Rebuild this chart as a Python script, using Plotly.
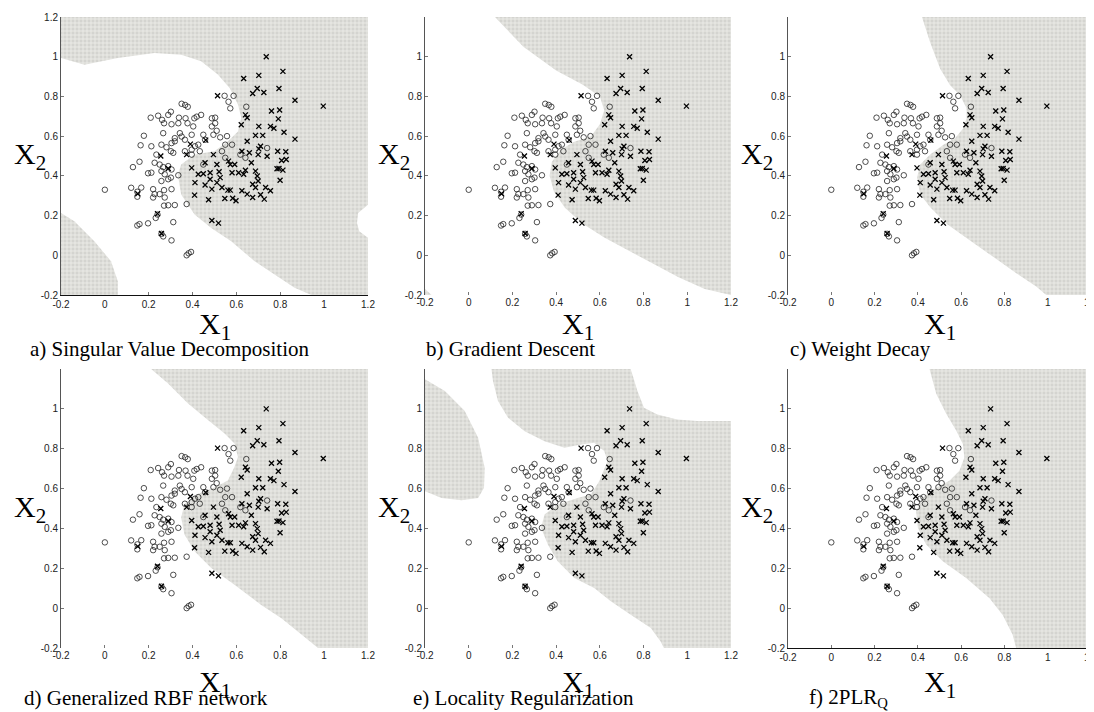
import plotly.graph_objects as go

# ---------------- data: sample points (same in every panel) ----------------
CIRCLE_X = [0.00, 0.12, 0.148, 0.166, 0.128, 0.148,
            0.35, 0.366, 0.378,
            0.209, 0.243, 0.261, 0.289, 0.301, 0.27, 0.304, 0.338, 0.335, 0.368, 0.377, 0.408, 0.419, 0.439, 0.403,
            0.266, 0.178, 0.342, 0.35, 0.319, 0.365, 0.396, 0.449, 0.488, 0.503, 0.495, 0.526, 0.557, 0.51, 0.488, 0.503,
            0.163, 0.212, 0.258, 0.281, 0.304, 0.319, 0.301, 0.312, 0.365, 0.396, 0.411, 0.426, 0.433, 0.457, 0.396, 0.534, 0.549, 0.58,
            0.158, 0.235, 0.227, 0.25, 0.266, 0.289, 0.304, 0.197, 0.212, 0.258, 0.273, 0.449, 0.549, 0.618, 0.641,
            0.301, 0.335, 0.258, 0.289, 0.304, 0.22, 0.227, 0.25, 0.27, 0.273, 0.22,
            0.27, 0.289, 0.319, 0.373, 0.24, 0.232,
            0.148, 0.158, 0.197, 0.312, 0.258, 0.266, 0.304,
            0.373, 0.393, 0.382,
            0.546, 0.587, 0.564, 0.572, 0.645, 0.74]
CIRCLE_Y = [0.33, 0.34, 0.32, 0.341, 0.444, 0.295,
            0.763, 0.757, 0.748,
            0.693, 0.703, 0.682, 0.707, 0.723, 0.665, 0.66, 0.693, 0.665, 0.69, 0.665, 0.69, 0.698, 0.707, 0.649,
            0.615, 0.602, 0.615, 0.598, 0.59, 0.582, 0.607, 0.607, 0.649, 0.665, 0.607, 0.594, 0.6, 0.627, 0.69, 0.693,
            0.554, 0.549, 0.557, 0.544, 0.565, 0.574, 0.524, 0.516, 0.524, 0.532, 0.549, 0.557, 0.524, 0.582, 0.507, 0.524, 0.557, 0.557,
            0.471, 0.507, 0.466, 0.457, 0.444, 0.449, 0.432, 0.413, 0.416, 0.424, 0.408, 0.457, 0.491, 0.507, 0.491,
            0.391, 0.403, 0.374, 0.383, 0.333, 0.333, 0.308, 0.308, 0.328, 0.291, 0.291,
            0.25, 0.252, 0.253, 0.258, 0.205, 0.188,
            0.15, 0.157, 0.161, 0.167, 0.108, 0.095, 0.075,
            0.0, 0.017, 0.01,
            0.803, 0.803, 0.773, 0.74, 0.748, 0.54]

CROSS_X = [0.736, 0.812, 0.633, 0.702, 0.695, 0.674, 0.725, 0.794, 0.867, 0.996,
           0.514, 0.76, 0.797, 0.641, 0.649, 0.791, 0.622, 0.702, 0.755, 0.771,
           0.817, 0.687, 0.72, 0.867, 0.649, 0.625, 0.659, 0.702, 0.71, 0.699,
           0.495, 0.74, 0.788, 0.825, 0.806, 0.827, 0.785, 0.794, 0.812, 0.799,
           0.457, 0.511, 0.564, 0.572, 0.592, 0.668, 0.396, 0.426, 0.449, 0.48,
           0.521, 0.58, 0.61, 0.641, 0.633, 0.687, 0.695, 0.411, 0.457, 0.48,
           0.511, 0.526, 0.534, 0.561, 0.572, 0.625, 0.649, 0.674, 0.687, 0.699,
           0.733, 0.755, 0.71, 0.488, 0.473, 0.409, 0.547, 0.583, 0.598, 0.674,
           0.727, 0.488, 0.518,
           0.39, 0.373, 0.255, 0.289, 0.46, 0.24, 0.258, 0.15]
CROSS_Y = [1.0, 0.926, 0.89, 0.906, 0.84, 0.815, 0.82, 0.84, 0.781, 0.751,
           0.803, 0.727, 0.732, 0.707, 0.693, 0.687, 0.657, 0.649, 0.649, 0.64,
           0.62, 0.604, 0.604, 0.585, 0.574, 0.524, 0.516, 0.536, 0.549, 0.507,
           0.507, 0.499, 0.524, 0.521, 0.477, 0.482, 0.436, 0.437, 0.429, 0.378,
           0.466, 0.457, 0.474, 0.457, 0.457, 0.466, 0.44, 0.408, 0.411, 0.416,
           0.421, 0.416, 0.416, 0.428, 0.408, 0.424, 0.399, 0.366, 0.354, 0.383,
           0.366, 0.391, 0.341, 0.328, 0.328, 0.325, 0.308, 0.358, 0.341, 0.374,
           0.341, 0.325, 0.305, 0.333, 0.28, 0.303, 0.286, 0.287, 0.275, 0.291,
           0.283, 0.175, 0.162,
           0.56, 0.507, 0.5, 0.437, 0.58, 0.21, 0.11, 0.31]

# ---------------- data: shaded decision regions (polygon vertices, data units) ----------------
A_MAIN_X = [-0.2, 1.2, 1.2, 1.155, 1.15, 1.16, 1.2, 1.2, 0.942, 0.865, 0.774, 0.683, 0.576, 0.485, 0.409, 0.348, 0.333,
            0.348, 0.409, 0.5, 0.561, 0.607, 0.622, 0.607, 0.569, 0.515, 0.439, 0.348, 0.226, 0.059, -0.093, -0.2]
A_MAIN_Y = [1.2, 1.2, 0.255, 0.213, 0.163, 0.121, 0.088, -0.2, -0.2, -0.164, -0.097, -0.03, 0.071, 0.138, 0.205, 0.306, 0.406,
            0.457, 0.507, 0.524, 0.574, 0.624, 0.692, 0.759, 0.843, 0.91, 0.977, 1.01, 1.019, 0.994, 0.96, 0.994]
A_LEFT_X = [-0.2, -0.139, -0.048, 0.028, 0.059, 0.059, -0.2]
A_LEFT_Y = [0.213, 0.171, 0.071, -0.03, -0.131, -0.2, -0.2]

B_MAIN_X = [0.12, 0.25, 0.4, 0.52, 0.6, 0.62, 0.6, 0.56, 0.48, 0.42, 0.38, 0.37, 0.39, 0.44, 0.52, 0.62, 0.72,
            0.84, 0.96, 1.08, 1.2, 1.2]
B_MAIN_Y = [1.2, 1.05, 0.93, 0.86, 0.8, 0.73, 0.66, 0.6, 0.57, 0.53, 0.47, 0.4, 0.32, 0.24, 0.16, 0.09, 0.03,
            -0.04, -0.11, -0.17, -0.2, 1.2]
B_CORNER_X = [-0.2, -0.17, -0.2]
B_CORNER_Y = [-0.2, -0.2, -0.17]

C_MAIN_X = [0.419, 0.457, 0.503, 0.549, 0.595, 0.625, 0.625, 0.61, 0.572, 0.518, 0.457, 0.411, 0.396, 0.411, 0.457,
            0.534, 0.641, 0.748, 0.855, 0.947, 0.993, 1.2, 1.2]
C_MAIN_Y = [1.2, 1.072, 0.939, 0.856, 0.806, 0.74, 0.69, 0.64, 0.59, 0.557, 0.507, 0.457, 0.391, 0.308, 0.242,
            0.158, 0.075, -0.008, -0.091, -0.157, -0.2, -0.2, 1.2]

D_MAIN_X = [0.211, 0.287, 0.378, 0.47, 0.546, 0.591, 0.607, 0.591, 0.561, 0.5, 0.424, 0.363, 0.348, 0.363, 0.409,
            0.485, 0.591, 0.713, 0.805, 0.881, 0.972, 1.2, 1.2]
D_MAIN_Y = [1.2, 1.129, 1.028, 0.944, 0.876, 0.826, 0.758, 0.708, 0.64, 0.606, 0.573, 0.522, 0.455, 0.37, 0.286,
            0.202, 0.117, 0.016, -0.051, -0.119, -0.2, -0.2, 1.2]

E_MAIN_X = [0.104, 0.111, 0.134, 0.18, 0.256, 0.347, 0.438, 0.514, 0.574, 0.62, 0.635, 0.597, 0.559, 0.498, 0.407,
            0.347, 0.331, 0.362, 0.407, 0.483, 0.574, 0.65, 0.741, 0.833, 0.878, 0.893, 1.2, 1.2, 1.045, 0.954,
            0.863, 0.802, 0.772, 0.741]
E_MAIN_Y = [1.2, 1.14, 1.039, 0.955, 0.888, 0.838, 0.805, 0.821, 0.83, 0.788, 0.738, 0.637, 0.57, 0.553, 0.52,
            0.47, 0.403, 0.319, 0.235, 0.151, 0.101, 0.034, -0.033, -0.1, -0.167, -0.2, -0.2, 0.939, 0.939, 0.947,
            0.972, 1.006, 1.089, 1.2]
E_BLOB_X = [-0.2, -0.109, -0.018, 0.043, 0.073, 0.07, 0.043, -0.033, -0.124, -0.2]
E_BLOB_Y = [1.148, 1.089, 0.989, 0.855, 0.704, 0.604, 0.553, 0.542, 0.553, 0.587]

F_MAIN_X = [0.454, 0.485, 0.531, 0.577, 0.608, 0.615, 0.592, 0.546, 0.485, 0.423, 0.392, 0.4, 0.438, 0.515, 0.623,
            0.731, 0.792, 0.838, 0.854, 1.2, 1.2]
F_MAIN_Y = [1.2, 1.076, 0.975, 0.891, 0.824, 0.756, 0.689, 0.639, 0.605, 0.555, 0.487, 0.403, 0.319, 0.235, 0.151,
            0.05, -0.034, -0.134, -0.2, -0.2, 1.2]

CAPTIONS = ["a) Singular Value Decomposition", "b) Gradient Descent", "c) Weight Decay",
            "d) Generalized RBF network", "e) Locality Regularization", "f) 2PLR<sub>Q</sub>"]
CAPTION_CENTERS = [161, 502, 852, 138, 515, 840]
X_TICKS = [-0.2, 0, 0.2, 0.4, 0.6, 0.8, 1, 1.2]
Y_TICKS = [-0.2, 0, 0.2, 0.4, 0.6, 0.8, 1]
Y_TICKS_A = [-0.2, 0, 0.2, 0.4, 0.6, 0.8, 1, 1.2]
FIG_CAPTION = ("Figure 3.3 The decision planes of the RBF network using different weight "
               "learning methods in the Banana")

REGIONS = [
    [(A_MAIN_X, A_MAIN_Y), (A_LEFT_X, A_LEFT_Y)],
    [(B_MAIN_X, B_MAIN_Y), (B_CORNER_X, B_CORNER_Y)],
    [(C_MAIN_X, C_MAIN_Y)],
    [(D_MAIN_X, D_MAIN_Y)],
    [(E_MAIN_X, E_MAIN_Y), (E_BLOB_X, E_BLOB_Y)],
    [(F_MAIN_X, F_MAIN_Y)],
]

# ---------------- layout geometry (pixels) ----------------
W, H = 1094, 712
COLS = [(53, 360), (417, 723), (780, 1083)]
ROWS = [(9, 287), (361, 640)]
CAPTION_Y = [341, 690]
XLABEL_OFFSET = [10, 15]
BOTTOM_LINE = [True, False, False, False, False, True]

fig = go.Figure()
annotations = []
layout = {}
tick_font = dict(family="Liberation Sans, Arial", size=10, color="#222")
serif = "Liberation Serif, Times New Roman, serif"

for i in range(6):
    r, c = divmod(i, 3)
    l, rr = COLS[c]
    t, b = ROWS[r]
    n = "" if i == 0 else str(i + 1)
    xa, ya = "x" + n, "y" + n
    for (px, py) in REGIONS[i]:
        fig.add_trace(go.Scatter(
            x=px, y=py, xaxis=xa, yaxis=ya, mode="none", fill="toself",
            fillcolor="#d8d8d4",
            fillpattern=dict(shape="+", bgcolor="#d4d4d0", fgcolor="#efefec", size=4, solidity=0.35),
            hoverinfo="skip", showlegend=False))
    fig.add_trace(go.Scatter(
        x=CIRCLE_X, y=CIRCLE_Y, xaxis=xa, yaxis=ya, mode="markers",
        marker=dict(symbol="circle-open", size=5.5, color="#222", line=dict(width=0.8)),
        showlegend=False))
    fig.add_trace(go.Scatter(
        x=CROSS_X, y=CROSS_Y, xaxis=xa, yaxis=ya, mode="markers",
        marker=dict(symbol="x-thin-open", size=5, color="#000", line=dict(width=1.3)),
        showlegend=False))
    layout["xaxis" + n] = dict(
        domain=[l / W, rr / W], range=[-0.2, 1.2], anchor=ya, showgrid=False, zeroline=False,
        automargin=False,
        tickvals=X_TICKS, ticktext=[f"{v:g}" for v in X_TICKS], ticks="inside", ticklen=3,
        tickcolor="#777", tickfont=tick_font, showline=BOTTOM_LINE[i], linecolor="#111",
        linewidth=1, layer="below traces", fixedrange=True)
    yt = Y_TICKS_A if i == 0 else Y_TICKS
    layout["yaxis" + n] = dict(
        domain=[1 - b / H, 1 - t / H], range=[-0.2, 1.2], anchor=xa, showgrid=False, zeroline=False,
        automargin=False,
        tickvals=yt, ticktext=[f"{v:g}" for v in yt], ticks="inside", ticklen=3,
        tickcolor="#777", tickfont=tick_font, showline=True, linecolor="#555", linewidth=1,
        layer="below traces", fixedrange=True)
    # axis labels
    annotations.append(dict(text="X<sub>1</sub>", xref=xa, x=0.5, yref="paper",
                            y=1 - (b + XLABEL_OFFSET[r]) / H,
                            showarrow=False, font=dict(family=serif, size=30, color="#000"),
                            xanchor="center", yanchor="top"))
    annotations.append(dict(text="X<sub>2</sub>", xref="paper", x=(l - 31) / W, yref=ya, y=0.5,
                            showarrow=False, font=dict(family=serif, size=30, color="#000"),
                            xanchor="center", yanchor="middle"))
    annotations.append(dict(text=CAPTIONS[i], xref="paper", x=CAPTION_CENTERS[i] / W, yref="paper",
                            y=1 - CAPTION_Y[r] / H, showarrow=False,
                            font=dict(family=serif, size=21, color="#000"),
                            xanchor="center", yanchor="middle"))

annotations.append(dict(text=FIG_CAPTION, xref="paper", x=60 / W, yref="paper", y=1 - 712 / H,
                        showarrow=False, font=dict(family=serif, size=21, color="#777"),
                        xanchor="left", yanchor="middle"))

fig.update_layout(template="none", width=W, height=H, margin=dict(l=0, r=0, t=0, b=0, autoexpand=False),
                  paper_bgcolor="white", plot_bgcolor="white", annotations=annotations,
                  showlegend=False, **layout)
fig.write_html("out.html")
